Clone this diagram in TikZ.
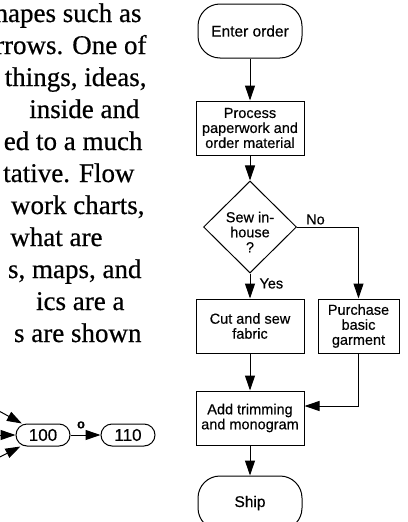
\documentclass[tikz,border=0pt]{standalone}
\usepackage{fontspec}
\setmainfont{Liberation Serif}[FakeBold=0.6]
\setsansfont{Liberation Sans}[FakeBold=0.4]
\usetikzlibrary{positioning,shapes.geometric,arrows.meta}

\begin{document}
\begin{tikzpicture}[x=1pt,y=-1pt,line width=1pt,
  txt/.style={inner sep=0pt,anchor=base east,font=\fontsize{27}{32}\selectfont},
  box/.style={draw,align=center,inner sep=2pt,minimum width=108pt,minimum height=54pt,font=\sffamily\fontsize{14.5}{15}\selectfont},
  term/.style={box,rounded corners=22pt,minimum width=104pt},
  decision/.style={draw,diamond,inner sep=0pt,minimum width=93pt,minimum height=92pt},
  state/.style={draw,rounded corners=11pt,minimum width=54pt,minimum height=22pt,inner sep=0pt,font=\sffamily\fontsize{17}{20}\selectfont},
  lbl/.style={inner sep=1pt,font=\sffamily\fontsize{14.5}{15}\selectfont},
  arr/.style={-{Triangle[length=15pt,width=10pt]}}]
\useasboundingbox (0,0) rectangle (407,522);
\fill[white] (0,0) rectangle (407,522);
\clip (0,0) rectangle (407,522);

% running text beside the chart
\node[txt] (l1) at (142,22) {hapes such as};
\node[txt] (l2) at (147,54) {rrows. One of};
\node[txt] (l3) at (147,86) {things, ideas,};
\node[txt] (l4) at (140,118) {inside and};
\node[txt] (l5) at (143,150) {ed to a much};
\node[txt] (l6) at (135,182) {tative. Flow};
\node[txt] (l7) at (145,214) {work charts,};
\node[txt] (l8) at (103,246) {what are};
\node[txt] (l9) at (142,278) {s, maps, and};
\node[txt] (l10) at (125,310) {ics are a};
\node[txt] (l11) at (142,342) {s are shown};

% order flow chart
\node[term,font=\sffamily\fontsize{15.5}{16}\selectfont] (enter) at (250,31) {Enter order};
\node[box,below=42pt of enter] (process) {Process\\paperwork and\\order material};
\node[decision,below=25pt of process,label={[lbl,name=sewlbl,align=center,yshift=-5pt]center:{Sew in-\\house\\?}}] (sew) {};
\node[box,below=25pt of sew] (cut) {Cut and sew\\fabric};
\node[box,right=13pt of cut,minimum width=81pt] (purchase) {Purchase\\basic\\garment};
\node[box,below=37pt of cut] (add) {Add trimming\\and monogram};
\node[term,below=30pt of add,font=\sffamily\fontsize{15.5}{16}\selectfont] (ship) {Ship};

\draw[arr] (enter) -- (process);
\draw[arr] (process) -- (sew);
\draw[arr] (sew) -- node[lbl,right=8pt,pos=0.4] {Yes} (cut);
\draw[arr] (sew.east) -| node[lbl,above=1pt,pos=0.15] {No} (purchase.north);
\draw[arr] (cut) -- (add);
\draw[arr] (purchase.south) |- ([yshift=12pt]add.east);
\draw[arr] (add) -- (ship);

% small state diagram
\node[state] (s100) at (43,435) {100};
\node[state,right=30pt of s100] (s110) {110};
\coordinate (in1) at (-12,405);
\coordinate (in2) at (-12,435);
\coordinate (in3) at (-12,463);
\draw[arr] (in1) -- (s100);
\draw[arr] (in2) -- (s100);
\draw[arr] (in3) -- (s100);
\draw[arr] (s100) -- node[pos=0.35,above=5pt,inner sep=1pt,font=\sffamily\bfseries\fontsize{13}{13}\selectfont] {o} (s110);
\end{tikzpicture}
\end{document}
